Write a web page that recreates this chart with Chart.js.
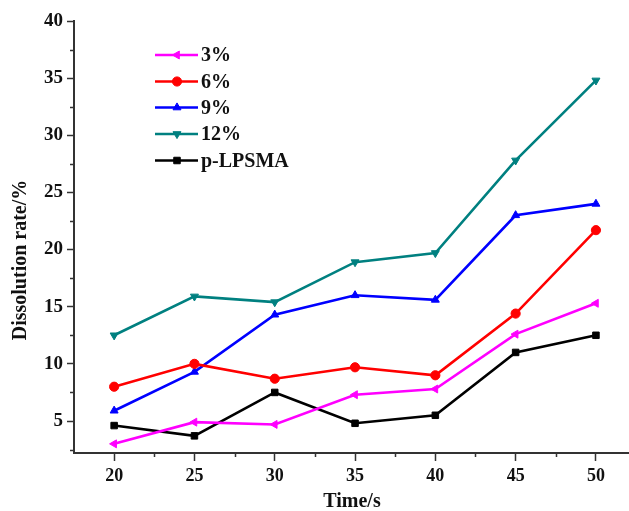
<!DOCTYPE html>
<html>
<head>
<meta charset="utf-8">
<script src="https://cdn.jsdelivr.net/npm/chart.js@4"></script>
<style>
html,body{margin:0;padding:0;background:#fff;}
#wrap{width:629px;height:511px;position:relative;}
</style>
</head>
<body>
<div id="wrap"><canvas id="c" width="629" height="511"></canvas></div>
<script>
// ---- data ----
const times = [20, 25, 30, 35, 40, 45, 50];
const s3  = [3.0, 4.9, 4.7, 7.3, 7.8, 12.6, 15.3];
const s6  = [8.0, 10.0, 8.7, 9.7, 9.0, 14.4, 21.7];
const s9  = [5.9, 9.3, 14.3, 16.0, 15.6, 23.0, 24.0];
const s12 = [12.5, 15.9, 15.4, 18.9, 19.7, 27.8, 34.8];
const sP  = [4.6, 3.7, 7.5, 4.8, 5.5, 11.0, 12.5];
const seriesNames = ['3%', '6%', '9%', '12%', 'p-LPSMA'];
const xTicks = [20, 25, 30, 35, 40, 45, 50];
const xMinor = [22.5, 27.5, 32.5, 37.5, 42.5, 47.5];
const yTicks = [5, 10, 15, 20, 25, 30, 35, 40];
const yMinor = [2.5, 7.5, 12.5, 17.5, 22.5, 27.5, 32.5, 37.5];
const xTitle = 'Time/s';
const yTitle = 'Dissolution rate/%';

const FONT = '"Liberation Serif", "Times New Roman", serif';
const AXIS = '#333333';

function pts(arr){ return times.map((t,i)=>({x:t, y:arr[i]})); }

function ds(label, arr, color, style, rot){
  return {
    label, data: pts(arr),
    borderColor: color, backgroundColor: color,
    borderWidth: 2.6, pointStyle: style, pointRotation: rot,
    pointRadius: 4.6, pointHoverRadius: 4.6, pointBorderWidth: 1,
    tension: 0, fill: false
  };
}

const datasets = [
  ds(seriesNames[0], s3,  '#FF00FF', 'triangle', 270),
  ds(seriesNames[1], s6,  '#FF0000', 'circle', 0),
  ds(seriesNames[2], s9,  '#0000FF', 'triangle', 0),
  ds(seriesNames[3], s12, '#008080', 'triangle', 180),
  ds(seriesNames[4], sP,  '#000000', 'rect', 0)
];

const extras = {
  id: 'extras',
  afterDraw(chart){
    const ctx = chart.ctx;
    const xs = chart.scales.x, ys = chart.scales.y;
    const ca = chart.chartArea;
    ctx.save();
    // extend bottom axis line to the page edge
    ctx.strokeStyle = AXIS; ctx.lineWidth = 2;
    ctx.beginPath(); ctx.moveTo(ca.right - 1, ca.bottom); ctx.lineTo(chart.width, ca.bottom); ctx.stroke();
    // minor ticks
    ctx.lineWidth = 1.5;
    ctx.beginPath();
    xMinor.forEach(v=>{ const px = Math.round(xs.getPixelForValue(v))+0.5; ctx.moveTo(px, ca.bottom); ctx.lineTo(px, ca.bottom+4); });
    yMinor.forEach(v=>{ const py = Math.round(ys.getPixelForValue(v))+0.5; ctx.moveTo(ca.left, py); ctx.lineTo(ca.left-4, py); });
    ctx.stroke();
    // axis titles
    ctx.fillStyle = '#111';
    ctx.font = 'bold 20px ' + FONT;
    ctx.textAlign = 'center'; ctx.textBaseline = 'middle';
    ctx.fillText(xTitle, 352, 502);
    ctx.translate(21, 260); ctx.rotate(-Math.PI/2);
    ctx.fillText(yTitle, 0, 0);
    ctx.restore();
    // legend
    ctx.save();
    const rowsY = [55, 81.5, 107.5, 134, 160.5];
    chart.data.datasets.forEach((d,i)=>{
      const y = rowsY[i];
      ctx.strokeStyle = d.borderColor; ctx.fillStyle = d.backgroundColor;
      ctx.lineWidth = 2.6;
      ctx.beginPath(); ctx.moveTo(155, y); ctx.lineTo(198, y); ctx.stroke();
      ctx.lineWidth = 1;
      Chart.helpers.drawPoint(ctx, {pointStyle: d.pointStyle, rotation: d.pointRotation, radius: 4.6, borderWidth: 1}, 177, y);
      ctx.fillStyle = '#111';
      ctx.font = 'bold 20px ' + FONT;
      ctx.textAlign = 'left'; ctx.textBaseline = 'middle';
      ctx.fillText(d.label, 201, y + 1);
    });
    ctx.restore();
  }
};

new Chart(document.getElementById('c'), {
  type: 'line',
  data: { datasets },
  options: {
    responsive: false, animation: false,
    layout: { padding: { top: 21, right: 0, left: 0, bottom: 0 } },
    plugins: { legend: { display: false }, tooltip: { enabled: false } },
    scales: {
      x: {
        type: 'linear', min: 17.5, max: 51.71,
        afterBuildTicks(s){ s.ticks = xTicks.map(v=>({value:v})); },
        afterFit(s){ s.height = 58; },
        grid: { display: true, drawOnChartArea: false, drawTicks: true, tickLength: 8, tickColor: AXIS, tickWidth: 1.5 },
        border: { display: true, color: AXIS, width: 2 },
        ticks: { color: '#111', font: { family: FONT, size: 18, weight: 'bold' }, padding: 5, maxRotation: 0, autoSkip: false }
      },
      y: {
        type: 'linear', min: 2.2, max: 40,
        afterBuildTicks(s){ s.ticks = yTicks.map(v=>({value:v})); },
        afterFit(s){ s.width = 74; },
        grid: { display: true, drawOnChartArea: false, drawTicks: true, tickLength: 7, tickColor: AXIS, tickWidth: 1.5 },
        border: { display: true, color: AXIS, width: 2 },
        ticks: { color: '#111', font: { family: FONT, size: 19, weight: 'bold' }, padding: 4, autoSkip: false }
      }
    }
  },
  plugins: [extras]
});
</script>
</body>
</html>
